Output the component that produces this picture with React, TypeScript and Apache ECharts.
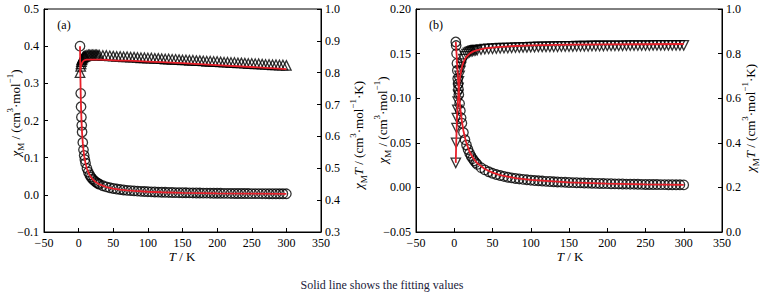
import React, { useEffect, useRef } from 'react';
import * as echarts from 'echarts';

// ---------- data ----------
const T_TAIL = [35, 40, 45, 50, 55, 60, 65, 70, 75, 80, 85, 90, 95, 100, 105, 110, 115, 120, 125, 130, 135, 140, 145, 150, 155, 160, 165, 170, 175, 180, 185, 190, 195, 200, 205, 210, 215, 220, 225, 230, 235, 240, 245, 250, 255, 260, 265, 270, 275, 280, 285, 290, 295, 300];

// panel (a)
const T_A = [2, 3, 3.5, 4, 4.5, 5, 6, 7, 8, 9, 10, 12, 14, 16, 18, 20, 22, 24, 26, 28, 30, ...T_TAIL];
const CHI_A = [
  0.400, 0.273, 0.237, 0.209, 0.187, 0.169, 0.141, 0.121, 0.106, 0.0947, 0.0853, 0.0713, 0.0611, 0.0535, 0.0476, 0.0428, 0.0389, 0.0357, 0.0329, 0.0305, 0.0285,
  0.0244, 0.0213, 0.0190,
  0.0170, 0.0155, 0.0142, 0.0131, 0.0121, 0.0113, 0.0106, 0.0100, 0.0094, 0.0089, 0.0085,
  0.00806, 0.00768, 0.00735, 0.00704, 0.00674, 0.00649, 0.00624, 0.00601, 0.00580, 0.00560,
  0.00542, 0.00524, 0.00508, 0.00493, 0.00479, 0.00465, 0.00452, 0.00440, 0.00428, 0.00418,
  0.00407, 0.00397, 0.00387, 0.00378, 0.00370, 0.00361, 0.00354, 0.00346, 0.00338, 0.00332,
  0.00325, 0.00318, 0.00312, 0.00306, 0.00300, 0.00296, 0.00290, 0.00285, 0.00280, 0.00274,
];
const CHIT_A = [
  0.800, 0.820, 0.828, 0.835, 0.840, 0.843, 0.847, 0.850, 0.851, 0.852, 0.853, 0.855, 0.856, 0.856, 0.856, 0.856, 0.856, 0.856, 0.856, 0.855, 0.855,
  0.854, 0.854, 0.853,
  0.852, 0.851, 0.851, 0.850, 0.850, 0.849, 0.849, 0.848, 0.847, 0.847, 0.846,
  0.846, 0.845, 0.845, 0.844, 0.843, 0.843, 0.842, 0.842, 0.841, 0.840,
  0.840, 0.839, 0.839, 0.838, 0.838, 0.837, 0.836, 0.836, 0.835, 0.835,
  0.834, 0.833, 0.833, 0.832, 0.832, 0.831, 0.831, 0.830, 0.829, 0.829,
  0.828, 0.828, 0.827, 0.826, 0.826, 0.825, 0.825, 0.824, 0.824, 0.823,
];
const FIT_T_A = [2, 2.5, 3, 3.5, 4, 5, 6, 7, 8, 10, 12, 15, 20, 25, 30, 40, 50, 60, 70, 80, 100, 120, 150, 200, 250, 300];
const FIT_CHI_A = [0.400, 0.323, 0.272, 0.234, 0.206, 0.166, 0.139, 0.120, 0.105, 0.084, 0.0701, 0.0561, 0.0421, 0.0336, 0.0280, 0.0210, 0.0168, 0.0140, 0.0120, 0.0105, 0.00835, 0.00694, 0.00553, 0.00412, 0.00327, 0.00270];
const FIT_CHIT_A = [0.800, 0.808, 0.815, 0.820, 0.825, 0.831, 0.835, 0.837, 0.839, 0.840, 0.841, 0.841, 0.841, 0.841, 0.841, 0.840, 0.839, 0.838, 0.838, 0.837, 0.835, 0.833, 0.830, 0.824, 0.818, 0.811];

// panel (b)
const T_B = [2, 2.5, 3, 3.5, 4, 4.5, 5, 5.5, 6, 7, 8, 9, 10, 12, 14, 16, 18, 20, 22, 24, 26, 28, 30, ...T_TAIL];
const CHI_B = [
  0.163, 0.159, 0.150, 0.139, 0.131, 0.122, 0.116, 0.110, 0.104, 0.094, 0.086, 0.078, 0.072, 0.0615, 0.0535, 0.0475, 0.0425, 0.0385, 0.0350, 0.0322, 0.0298, 0.0277, 0.0258,
  0.0222, 0.0196, 0.0175, 0.0158, 0.0144, 0.0133, 0.0123, 0.0114, 0.0107, 0.0100, 0.0095, 0.0090, 0.0085, 0.0081,
  0.0077, 0.0074, 0.0071, 0.0068, 0.0066, 0.0063, 0.0061, 0.0059, 0.0057, 0.0055,
  0.0054, 0.0052, 0.0051, 0.0049, 0.0048, 0.0047, 0.0045, 0.0044, 0.0043, 0.0042,
  0.0041, 0.0040, 0.0039, 0.0038, 0.0037, 0.0036, 0.0036, 0.0035, 0.0034, 0.0033,
  0.0033, 0.0032, 0.0032, 0.0031, 0.0031, 0.0030, 0.0030, 0.0029, 0.0029, 0.0028,
];
const CHIT_B = [
  0.310, 0.400, 0.466, 0.511, 0.548, 0.585, 0.615, 0.646, 0.675, 0.700, 0.722, 0.740, 0.755, 0.775, 0.788, 0.797, 0.803, 0.807, 0.810, 0.812, 0.814, 0.815, 0.816,
  0.818, 0.820, 0.821, 0.822, 0.823, 0.824, 0.825, 0.825, 0.826, 0.827, 0.827, 0.828, 0.828, 0.829,
  0.829, 0.830, 0.830, 0.830, 0.831, 0.831, 0.831, 0.832, 0.832, 0.832,
  0.832, 0.833, 0.833, 0.833, 0.833, 0.834, 0.834, 0.834, 0.834, 0.835,
  0.835, 0.835, 0.835, 0.835, 0.836, 0.836, 0.836, 0.836, 0.836, 0.836,
  0.836, 0.837, 0.837, 0.837, 0.837, 0.837, 0.837, 0.837, 0.837, 0.837,
];
const FIT_T_B = [2, 2.5, 3, 3.5, 4, 5, 6, 7, 8, 10, 12, 15, 20, 25, 30, 40, 50, 60, 80, 100, 150, 200, 250, 300];
const FIT_CHI_B = [0.163, 0.156, 0.150, 0.143, 0.135, 0.120, 0.107, 0.097, 0.088, 0.074, 0.0635, 0.052, 0.040, 0.0324, 0.0272, 0.0206, 0.0165, 0.0138, 0.0104, 0.0084, 0.0056, 0.0042, 0.0034, 0.0028];
const FIT_CHIT_B = [0.31, 0.39, 0.45, 0.50, 0.54, 0.60, 0.645, 0.68, 0.705, 0.74, 0.762, 0.782, 0.80, 0.81, 0.816, 0.823, 0.827, 0.830, 0.834, 0.837, 0.840, 0.841, 0.842, 0.843];

const CAPTION = 'Solid line shows the fitting values';

// ---------- helpers ----------
const FONT = "'Liberation Serif', 'DejaVu Serif', serif";
const RED = '#e8202a';
const zip = (xs: number[], ys: number[]) => xs.map((x, i) => [x, ys[i]]);
const minus = (s: string) => s.replace('-', '\u2212');

const baseAxis = {
  axisLine: { show: true, onZero: false, lineStyle: { color: '#000', width: 1 } },
  axisTick: { show: true, inside: true, length: 4, lineStyle: { color: '#000', width: 1 } },
  axisLabel: { color: '#000', fontFamily: FONT, fontSize: 12, margin: 5 },
  splitLine: { show: false },
};

const mkRich = (fs: number) => ({
  i: { fontFamily: FONT, fontSize: fs, fontStyle: 'italic', fill: '#000', lineHeight: fs + 2 },
  n: { fontFamily: FONT, fontSize: fs, fill: '#000', lineHeight: fs + 2 },
  s: { fontFamily: FONT, fontSize: fs - 4, fill: '#000', lineHeight: fs + 2, verticalAlign: 'bottom', padding: [0, 0, -3, 0] },
  p: { fontFamily: FONT, fontSize: fs - 4, fill: '#000', lineHeight: fs + 2, verticalAlign: 'top', padding: [-2, 0, 0, 0] },
});

function label(text: string, x: number, y: number, rotate = false, fs = 12) {
  return {
    type: 'text',
    x,
    y,
    rotation: rotate ? Math.PI / 2 : 0,
    style: { text, rich: mkRich(fs), font: `${fs}px ${FONT}`, fill: '#000', align: 'center', verticalAlign: 'middle' },
  };
}

const CHI_LABEL = '{i|χ}{s|M}{n| / (cm}{p|3}{n|·mol}{p|−1}{n|)}';
const CHIT_LABEL = '{i|χ}{s|M}{i|T}{n| / (cm}{p|3}{n|·mol}{p|−1}{n|·K)}';

export default function App() {
  const ref = useRef<HTMLDivElement>(null);
  useEffect(() => {
    if (!ref.current) return;
    const chart = echarts.init(ref.current, null, { renderer: 'svg' });
    const scatter = (name: string, xi: number, yi: number, data: number[][], symbol: string, rot = 0) => ({
      name,
      type: 'scatter',
      xAxisIndex: xi,
      yAxisIndex: yi,
      data,
      symbol,
      symbolSize: 9.5,
      symbolRotate: rot,
      itemStyle: { color: 'rgba(0,0,0,0)', borderColor: '#000', borderWidth: 1.3 },
      z: 2,
    });
    const fit = (name: string, xi: number, yi: number, data: number[][]) => ({
      name,
      type: 'line',
      xAxisIndex: xi,
      yAxisIndex: yi,
      data,
      showSymbol: false,
      symbol: 'none',
      lineStyle: { color: RED, width: 1.8 },
      z: 3,
    });
    chart.setOption({
      animation: false,
      backgroundColor: '#fff',
      grid: [
        { left: 44, top: 9, width: 277, height: 223, show: true, borderColor: '#000', borderWidth: 1 },
        { left: 416, top: 9, width: 306, height: 223, show: true, borderColor: '#000', borderWidth: 1 },
      ],
      xAxis: [0, 1].map((g) => ({
        ...baseAxis,
        type: 'value',
        gridIndex: g,
        min: -50,
        max: 350,
        interval: 50,
        axisLabel: { ...baseAxis.axisLabel, formatter: (v: number) => minus(String(v)) },
      })),
      yAxis: [
        { ...baseAxis, type: 'value', gridIndex: 0, position: 'left', min: -0.1, max: 0.5, interval: 0.1,
          axisLabel: { ...baseAxis.axisLabel, formatter: (v: number) => minus(v.toFixed(1)) } },
        { ...baseAxis, type: 'value', gridIndex: 0, position: 'right', min: 0.3, max: 1.0, interval: 0.1,
          axisLabel: { ...baseAxis.axisLabel, margin: 4, formatter: (v: number) => v.toFixed(1) } },
        { ...baseAxis, type: 'value', gridIndex: 1, position: 'left', min: -0.05, max: 0.2, interval: 0.05,
          axisLabel: { ...baseAxis.axisLabel, formatter: (v: number) => minus(v.toFixed(2)) } },
        { ...baseAxis, type: 'value', gridIndex: 1, position: 'right', min: 0, max: 1.0, interval: 0.2,
          axisLabel: { ...baseAxis.axisLabel, margin: 4, formatter: (v: number) => v.toFixed(1) } },
      ],
      series: [
        scatter('chiA', 0, 0, zip(T_A, CHI_A), 'circle'),
        scatter('chiTA', 0, 1, zip(T_A, CHIT_A), 'triangle'),
        fit('fitChiA', 0, 0, zip(FIT_T_A, FIT_CHI_A)),
        fit('fitChiTA', 0, 1, zip(FIT_T_A, FIT_CHIT_A)),
        scatter('chiB', 1, 2, zip(T_B, CHI_B), 'circle'),
        scatter('chiTB', 1, 3, zip(T_B, CHIT_B), 'triangle', 180),
        fit('fitChiB', 1, 2, zip(FIT_T_B, FIT_CHI_B)),
        fit('fitChiTB', 1, 3, zip(FIT_T_B, FIT_CHIT_B)),
      ],
      graphic: [
        label('{n|(a)}', 64, 25),
        label('{n|(b)}', 436, 25),
        label('{i|T}{n| / K}', 182, 256, false, 13),
        label('{i|T}{n| / K}', 570, 256, false, 13),
        label(CHI_LABEL, 15, 113, true, 13),
        label(CHIT_LABEL, 358, 135, true, 13),
        label(CHI_LABEL, 382, 120, true, 13),
        label(CHIT_LABEL, 750, 118, true, 13),
        {
          type: 'text',
          x: 382,
          y: 285,
          style: { text: CAPTION, font: `12px ${FONT}`, fill: '#22223a', align: 'center', verticalAlign: 'middle' },
        },
      ],
    });
    return () => chart.dispose();
  }, []);
  return <div ref={ref} style={{ position: 'fixed', left: 0, top: 0, width: 764, height: 294 }} />;
}
